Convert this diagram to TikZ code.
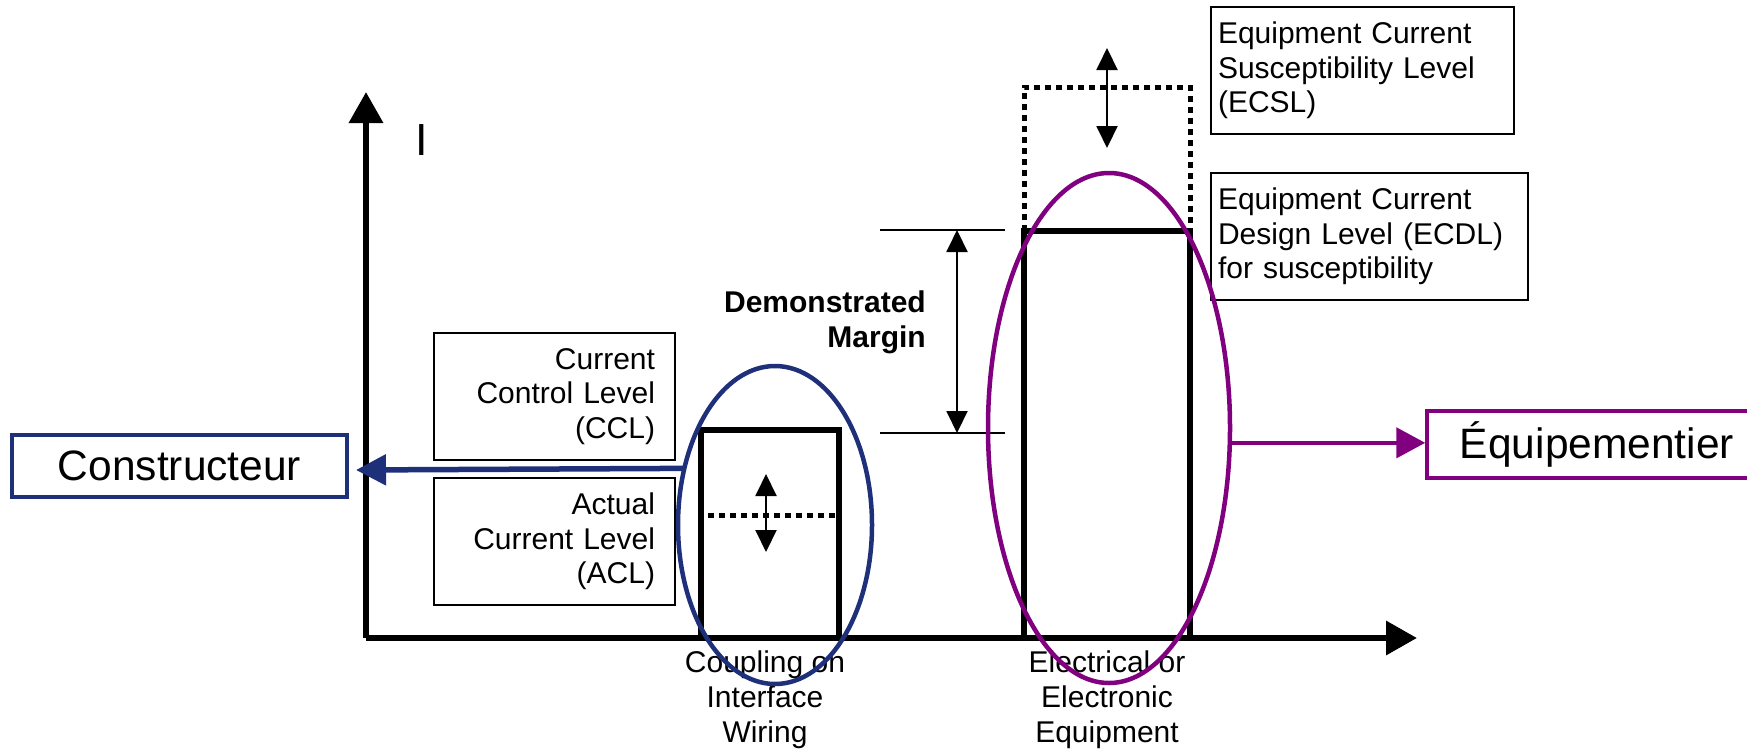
\documentclass[tikz,border=0pt]{standalone}
\usepackage{fontspec}
\setmainfont{Liberation Sans}
\usetikzlibrary{arrows.meta,shapes.geometric}
\definecolor{navy}{RGB}{31,48,122}
\definecolor{purp}{RGB}{128,0,128}
\tikzset{
  axisline/.style={line width=6.5pt,-{Triangle[length=31pt,width=33pt]}},
  levelbar/.style={line width=6pt},
  dotline/.style={line width=5pt,dash pattern=on 6pt off 5pt},
  dblarrow/.style={line width=2pt,{Triangle[length=22pt,width=21pt]}-{Triangle[length=22pt,width=21pt]}},
  thinline/.style={line width=1.8pt},
  txt/.style={font=\fontsize{30pt}{35pt}\selectfont,inner sep=0pt},
  lbox/.style={draw,line width=2.5pt,minimum height=127pt,inner ysep=0pt,inner xsep=7pt,font=\fontsize{30pt}{34.5pt}\selectfont},
  bigbox/.style={draw,line width=3.5pt,inner sep=0pt,font=\fontsize{42.5pt}{48pt}\selectfont},
  ring/.style={draw,ellipse,line width=4.5pt,inner sep=0pt,outer sep=0pt},
}
\begin{document}
\begin{tikzpicture}[x=1pt,y=-1pt]
\useasboundingbox (0,0) rectangle (1747,750);
% axes
\coordinate (O) at (366,638);
\coordinate (ytip) at (366,92);
\coordinate (xtip) at (1417,638);
\draw[axisline] (O) -- (ytip);
\draw[axisline] (O) -- (xtip);
\node[font=\fontsize{45pt}{50pt}\selectfont,inner sep=0pt] (ilab) at (422,140) {I};
% bottom labels
\node[txt,align=center] (coup) at (765,700) {Coupling on\\Interface\\Wiring};
\node[txt,align=center] (elec) at (1107,700) {Electrical or\\Electronic\\Equipment};
% small bar
\draw[levelbar] (701,638) rectangle (839,430);
\draw[dotline] (708,515) -- (839,515);
\draw[dblarrow] (766,474) -- (766,552);
% big bar
\draw[dotline] (1024,231) -- (1024,87) -- (1190,87) -- (1190,231);
\draw[levelbar] (1024,638) rectangle (1190,231);
\draw[dblarrow] (1107,48) -- (1107,148);
% demonstrated margin
\draw[thinline] (880,230) -- (1005,230);
\draw[thinline] (880,433) -- (1005,433);
\draw[dblarrow] (957,230) -- (957,433);
\node[font=\bfseries\fontsize{30pt}{35pt}\selectfont,align=right,inner sep=0pt,anchor=east] (dm) at (926,322) {Demonstrated\\Margin};
% label boxes
\node[lbox,minimum width=241pt,text width=201pt,inner xsep=20pt,align=right] (ccl) at (554.5,396.5) {Current\\Control Level\\(CCL)};
\node[lbox,minimum width=241pt,text width=201pt,inner xsep=20pt,align=right] (acl) at (554.5,541.5) {Actual\\Current Level\\(ACL)};
\node[lbox,minimum width=303pt,text width=289pt,align=left] (ecsl) at (1362.5,70.5) {Equipment Current\\Susceptibility Level\\(ECSL)};
\node[lbox,minimum width=317pt,text width=303pt,align=left] (ecdl) at (1369.5,236.5) {Equipment Current\\Design Level (ECDL)\\for susceptibility};
% ellipses
\node[ring,draw=navy,minimum width=194pt,minimum height=318pt] (bell) at (775,525) {};
\node[ring,draw=purp,minimum width=242pt,minimum height=510pt] (pell) at (1109,428) {};
% actors
\node[bigbox,draw=navy,minimum width=335pt,minimum height=62pt] (cons) at (179.5,466) {Constructeur};
\node[bigbox,draw=purp,minimum width=340pt,minimum height=67pt] (equip) at (1597,444.5) {Équipementier};
\coordinate (constip) at (356,470);
\draw[navy,line width=5.5pt,-{Triangle[length=30pt,width=30pt]}] (bell.148) -- (constip);
\draw[purp,line width=4.5pt,-{Triangle[length=29pt,width=30pt]}] (pell.-7) -- (pell.-7 -| equip.west);
\end{tikzpicture}
\end{document}
